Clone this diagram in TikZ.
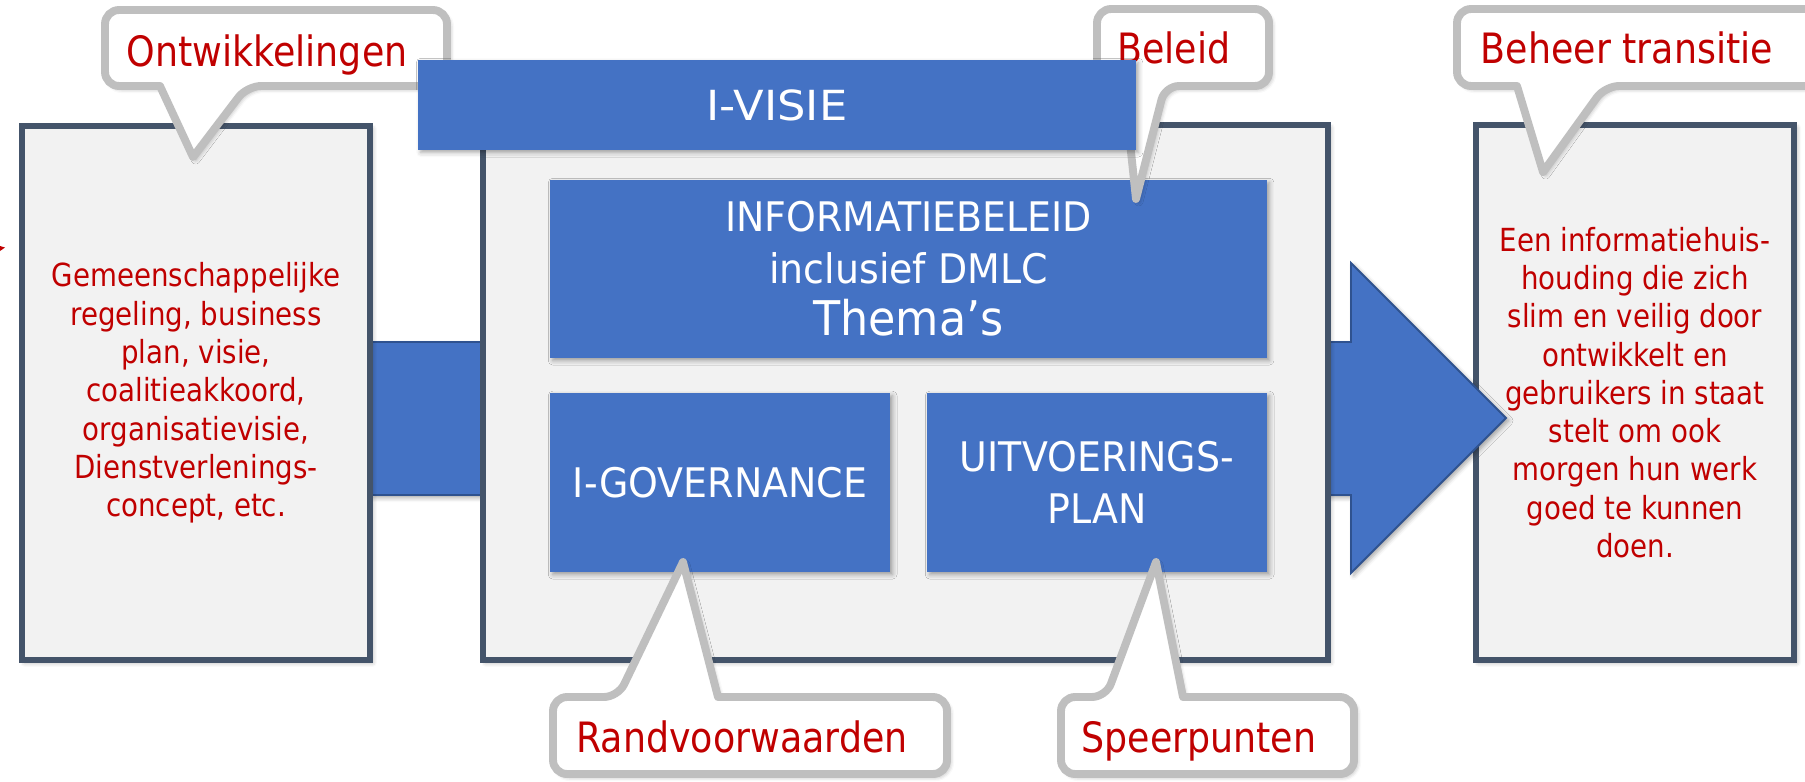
\documentclass[tikz,border=0pt]{standalone}
\usepackage{fontspec}
\setmainfont[FakeStretch=0.87]{DejaVu Sans}
\newfontfamily\bluefont[FakeStretch=0.93]{DejaVu Sans}
\newfontfamily\visiefont[FakeStretch=1.08]{DejaVu Sans}
\usetikzlibrary{shadows.blur}
\definecolor{blu}{HTML}{4472C4}
\definecolor{bluedge}{HTML}{2F528F}
\definecolor{slate}{HTML}{44546A}
\definecolor{panel}{HTML}{F2F2F2}
\definecolor{redtxt}{HTML}{C00000}
\definecolor{cgray}{HTML}{BFBFBF}
\tikzset{
  shad/.style={blur shadow={shadow xshift=1.5pt, shadow yshift=-1.5pt, shadow blur radius=2.5pt, shadow opacity=35}},
  panelbox/.style={draw=slate, line width=3.4pt, fill=panel, inner sep=0pt, align=center, text=redtxt,
    font=\fontsize{18.1}{21.8}\selectfont, shad},
  bluebox/.style={fill=blu, inner sep=0pt, align=center, text=white,
    font=\bluefont\fontsize{23.2}{29.5}\selectfont, shad},
  callout/.style={draw=cgray, line width=4.5pt, fill=white, line join=round, shad},
  ctext/.style={text=redtxt, font=\fontsize{23.8}{28}\selectfont, anchor=base, inner sep=0pt},
  bigarrow/.style={fill=blu, draw=bluedge, line width=1.1pt, line join=miter, shad},
}
\begin{document}
\begin{tikzpicture}[x=0.02cm, y=-0.02cm]
\useasboundingbox (0,0) rectangle (1805,781);

% small red mark at the left edge
\fill[redtxt] (0,246) -- (5,247.5) -- (0,251) -- cycle;

% right box
\node[panelbox, minimum width=181pt, minimum height=304.4pt] (right) at (1635,392.5)
  {Een informatiehuis-\\houding die zich\\slim en veilig door\\ontwikkelt en\\gebruikers in staat\\stelt om ook\\morgen hun werk\\goed te kunnen\\doen.};

% big arrow behind the centre box
\coordinate (atip) at (1506,418);
\draw[bigarrow] (371,342) -- (1351,342) -- (1351,263) -- (atip) -- (1351,573) -- (1351,495) -- (371,495) -- cycle;

% left box
\node[panelbox, minimum width=198pt, minimum height=303.8pt] (left) at (196,393)
  {Gemeenschappelijke\\regeling, business\\plan, visie,\\coalitieakkoord,\\organisatievisie,\\Dienstverlenings-\\concept, etc.};

% centre box
\node[panelbox, minimum width=480.8pt, minimum height=304.4pt] (centre) at (905.5,392.5) {};

% blue boxes
\node[bluebox, minimum width=408pt, minimum height=101.3pt] (info) at (908.5,269)
  {INFORMATIEBELEID\\inclusief DMLC\\{\fontsize{27.2}{29.5}\selectfont Thema’s}};
\node[bluebox, minimum width=193.5pt, minimum height=101.9pt] (igov) at (720,482.5) {I-GOVERNANCE};
\node[bluebox, minimum width=193.5pt, minimum height=101.9pt] (uitv) at (1097,482.5) {UITVOERINGS-\\PLAN};

% callouts
\coordinate (tipO) at (193,157);
\draw[callout, rounded corners=8pt] (160,86) -- (105,86) -- (105,10) -- (447,10) -- (447,86) -- (247,86) [sharp corners] -- (tipO) -- cycle;
\node[ctext] (tOnt) at (267,66) {Ontwikkelingen};

\coordinate (tipB) at (1136,199);
\draw[callout, rounded corners=8pt] (1124,86) -- (1097,86) -- (1097,9) -- (1269,9) -- (1269,86) -- (1165,86) [sharp corners] -- (tipB) -- cycle;
\node[ctext] (tBel) at (1174,63) {Beleid};

\coordinate (tipT) at (1543,172);
\draw[callout, rounded corners=8pt] (1517,86) -- (1457,86) -- (1457,9) -- (1840,9) -- (1840,86) -- (1605,86) [sharp corners] -- (tipT) -- cycle;
\node[ctext] (tBeh) at (1627,63) {Beheer transitie};

\coordinate (tipR) at (683,562);
\draw[callout, rounded corners=8pt] (718,697) -- (947,697) -- (947,774) -- (553,774) -- (553,697) -- (618,697) [sharp corners] -- (tipR) -- cycle;
\node[ctext] (tRand) at (742,752) {Randvoorwaarden};

\coordinate (tipS) at (1156,562);
\draw[callout, rounded corners=8pt] (1183,697) -- (1354,697) -- (1354,774) -- (1061,774) -- (1061,697) -- (1106,697) [sharp corners] -- (tipS) -- cycle;
\node[ctext] (tSpeer) at (1199,752) {Speerpunten};

% I-VISIE bar on top
\node[bluebox, font=\visiefont\fontsize{23.6}{28}\selectfont, minimum width=408.5pt, minimum height=51.2pt] (visie) at (777,105) {I-VISIE};
\end{tikzpicture}
\end{document}
